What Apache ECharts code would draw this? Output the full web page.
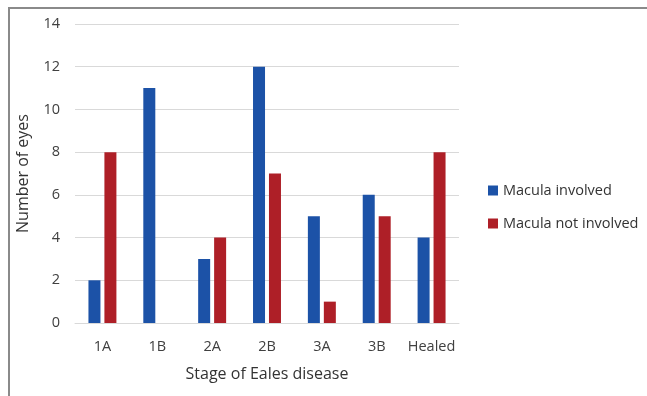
<!DOCTYPE html>
<html>
<head>
<meta charset="utf-8">
<script src="https://cdn.jsdelivr.net/npm/echarts@6/dist/echarts.min.js"></script>
<style>
  html, body { margin: 0; padding: 0; background: #fff; }
  #frame { position: absolute; left: 8px; top: 7px; right: 0; bottom: 0;
           border-left: 2px solid #8a8a8a; border-top: 2px solid #8a8a8a; }
  #chart { position: absolute; left: 0; top: 0; width: 647px; height: 396px; }
</style>
</head>
<body>
<div id="frame"></div>
<div id="chart"></div>
<script>
const stages = ['1A', '1B', '2A', '2B', '3A', '3B', 'Healed'];
const maculaInvolved = [2, 11, 3, 12, 5, 6, 4];
const maculaNotInvolved = [8, 0, 4, 7, 1, 5, 8];
const yTicks = [0, 2, 4, 6, 8, 10, 12, 14];

const font = '"Open Sans", "Liberation Sans", sans-serif';
const chart = echarts.init(document.getElementById('chart'), null, { renderer: 'canvas' });

chart.setOption({
  animation: false,
  textStyle: { fontFamily: font },
  grid: { left: 75, right: 188, top: 24, bottom: 73, containLabel: false },
  legend: {
    orient: 'vertical',
    left: 483, top: 178,
    itemWidth: 10, itemHeight: 10, itemGap: 18,
    icon: 'rect',
    textStyle: { fontFamily: font, fontSize: 14.5, color: '#333' },
    data: ['Macula involved', 'Macula not involved']
  },
  xAxis: {
    type: 'category',
    data: stages,
    name: 'Stage of Eales disease',
    nameLocation: 'middle',
    nameGap: 43,
    nameTextStyle: { fontFamily: font, fontSize: 16, color: '#333' },
    axisLine: { show: true, lineStyle: { color: '#d9d9d9', width: 1 } },
    axisTick: { show: false },
    axisLabel: { interval: 0, fontFamily: font, fontSize: 14.5, color: '#404040', margin: 16 }
  },
  yAxis: {
    type: 'value',
    min: yTicks[0], max: yTicks[yTicks.length - 1], interval: 2,
    name: 'Number of eyes',
    nameLocation: 'middle',
    nameGap: 44,
    nameRotate: 90,
    nameTextStyle: { fontFamily: font, fontSize: 16, color: '#333' },
    axisLine: { show: false },
    axisTick: { show: false },
    axisLabel: { fontFamily: font, fontSize: 14.5, color: '#404040', margin: 15 },
    splitLine: { lineStyle: { color: '#d9d9d9', width: 1 } }
  },
  series: [
    {
      name: 'Macula involved',
      type: 'bar',
      data: maculaInvolved,
      barWidth: 12,
      barGap: '33%',
      itemStyle: { color: '#1c52a7' }
    },
    {
      name: 'Macula not involved',
      type: 'bar',
      data: maculaNotInvolved,
      barWidth: 12,
      itemStyle: { color: '#ae1f27' }
    }
  ]
});
</script>
</body>
</html>
